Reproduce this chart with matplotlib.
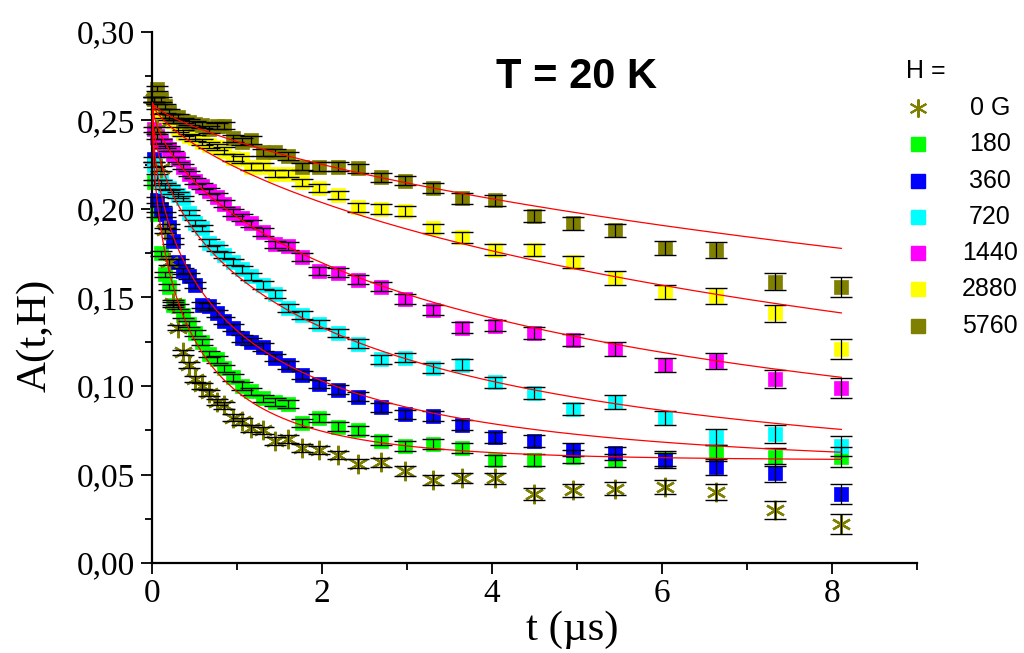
import numpy as np
import matplotlib
matplotlib.use("Agg")
import matplotlib.pyplot as plt
from matplotlib.lines import Line2D
from matplotlib.ticker import MultipleLocator, FuncFormatter

# time bins (us), shared by all fields
t = [0.02, 0.06, 0.10, 0.15, 0.20, 0.25, 0.31, 0.37, 0.44, 0.51, 0.59, 0.67,
     0.76, 0.85, 0.95, 1.06, 1.17, 1.30, 1.45, 1.60, 1.77, 1.97, 2.19, 2.42,
     2.69, 2.98, 3.30, 3.65, 4.04, 4.49, 4.95, 5.45, 6.04, 6.64, 7.33, 8.11]

err = [0.0015, 0.0015, 0.0015, 0.0015, 0.0015, 0.0015, 0.0016, 0.0016, 0.0016,
       0.0017, 0.0017, 0.0018, 0.0018, 0.0019, 0.0019, 0.0020, 0.0020, 0.0021,
       0.0021, 0.0022, 0.0022, 0.0023, 0.0024, 0.0025, 0.0026, 0.0027, 0.0028,
       0.0030, 0.0031, 0.0033, 0.0036, 0.0038, 0.0041, 0.0045, 0.0050, 0.0055]

a_0 = [0.262, 0.245, 0.223, 0.188, 0.170, 0.147, 0.133, 0.119, 0.112, 0.104,
       0.100, 0.096, 0.091, 0.089, 0.082, 0.080, 0.076, 0.075, 0.069, 0.070,
       0.065, 0.064, 0.061, 0.056, 0.057, 0.052, 0.047, 0.048, 0.048, 0.039,
       0.041, 0.042, 0.043, 0.040, 0.030, 0.022]
a_180 = [0.215, 0.197, 0.175, 0.163, 0.156, 0.146, 0.145, 0.140, 0.135, 0.130,
         0.125, 0.118, 0.115, 0.110, 0.105, 0.100, 0.097, 0.093, 0.091, 0.090,
         0.079, 0.082, 0.077, 0.075, 0.069, 0.066, 0.067, 0.065, 0.058, 0.058,
         0.060, 0.058, 0.059, 0.062, 0.060, 0.060]
a_360 = [0.228, 0.205, 0.200, 0.197, 0.190, 0.182, 0.170, 0.165, 0.162, 0.157,
         0.146, 0.145, 0.141, 0.137, 0.133, 0.127, 0.125, 0.122, 0.116, 0.112,
         0.106, 0.101, 0.098, 0.094, 0.088, 0.084, 0.083, 0.078, 0.071, 0.069,
         0.064, 0.062, 0.058, 0.054, 0.051, 0.039]
a_720 = [0.225, 0.218, 0.215, 0.213, 0.212, 0.210, 0.208, 0.206, 0.198, 0.192,
         0.189, 0.181, 0.178, 0.174, 0.170, 0.166, 0.162, 0.157, 0.152, 0.144,
         0.140, 0.135, 0.130, 0.124, 0.115, 0.116, 0.110, 0.112, 0.102, 0.096,
         0.087, 0.091, 0.082, 0.071, 0.073, 0.066]
a_1440 = [0.245, 0.241, 0.238, 0.236, 0.234, 0.231, 0.228, 0.224, 0.220, 0.216,
          0.213, 0.210, 0.207, 0.203, 0.198, 0.195, 0.192, 0.187, 0.180, 0.179,
          0.173, 0.165, 0.164, 0.160, 0.156, 0.149, 0.143, 0.133, 0.134, 0.130,
          0.126, 0.121, 0.112, 0.114, 0.104, 0.099]
a_2880 = [0.262, 0.258, 0.255, 0.253, 0.252, 0.250, 0.245, 0.243, 0.241, 0.240,
          0.238, 0.236, 0.235, 0.233, 0.229, 0.228, 0.224, 0.224, 0.220, 0.220,
          0.215, 0.212, 0.208, 0.201, 0.200, 0.199, 0.189, 0.184, 0.177, 0.177,
          0.170, 0.161, 0.153, 0.151, 0.141, 0.121]
a_5760 = [0.262, 0.268, 0.262, 0.258, 0.255, 0.252, 0.252, 0.250, 0.249, 0.248,
          0.2475, 0.245, 0.247, 0.247, 0.240, 0.238, 0.239, 0.232, 0.232, 0.230,
          0.224, 0.224, 0.224, 0.223, 0.218, 0.216, 0.212, 0.206, 0.205, 0.196,
          0.192, 0.188, 0.178, 0.177, 0.159, 0.156]

# stretched-exponential fit parameters: amplitude, baseline, lambda, beta
fit_180 = (0.195, 0.058, 2.17, 0.617)
fit_360 = (0.207, 0.053, 0.95, 0.55)
fit_720 = (0.215, 0.045, 0.408, 0.56)
fit_1440 = (0.210, 0.050, 0.198, 0.62)
fit_2880 = (0.210, 0.050, 0.095, 0.70)
fit_5760 = (0.210, 0.050, 0.0467, 0.72)

labels = ["0 G", "180", "360", "720", "1440", "2880", "5760"]
colors = ["#808000", "#00ff00", "#0000ff", "#00ffff", "#ff00ff", "#ffff00", "#808000"]

serif = "Liberation Serif"
sans = "Liberation Sans"
star = (6, 2, 0)

fig = plt.figure(figsize=(10.24, 6.53), dpi=100)
ax = fig.add_axes([152 / 1024, 1 - 563 / 653, 765 / 1024, 531 / 653])

square_series = [a_180, a_360, a_720, a_1440, a_2880, a_5760]
for y, c in zip(square_series, colors[1:]):
    ax.plot(t, y, "s", color=c, ms=9.5, mec=c, mew=0.5, zorder=2, clip_on=False)
ax.plot(t, a_0, marker=star, ls="none", color=colors[0], ms=14, mew=1.7,
        zorder=2.5, clip_on=False)

for y in [a_0] + square_series:
    ax.errorbar(t, y, yerr=err, fmt="none", ecolor="black", elinewidth=0.9,
                capsize=8, capthick=1.0, zorder=3, clip_on=False)

tf = np.linspace(0, 8.11, 400)
for a, b, lam, beta in [fit_180, fit_360, fit_720, fit_1440, fit_2880, fit_5760]:
    ax.plot(tf, a * np.exp(-(lam * tf) ** beta) + b, color="red", lw=0.9, zorder=4)

ax.set_xlim(0, 9)
ax.set_ylim(0, 0.30)
ax.spines["top"].set_visible(False)
ax.spines["right"].set_visible(False)
for s in ["left", "bottom"]:
    ax.spines[s].set_linewidth(1.6)
ax.xaxis.set_major_locator(MultipleLocator(2))
ax.xaxis.set_minor_locator(MultipleLocator(1))
ax.yaxis.set_major_locator(MultipleLocator(0.05))
ax.yaxis.set_minor_locator(MultipleLocator(0.025))
ax.yaxis.set_major_formatter(FuncFormatter(lambda v, p: f"{v:.2f}".replace(".", ",")))
ax.tick_params(which="major", direction="out", length=8, width=1.3)
ax.tick_params(which="minor", direction="out", length=5, width=1.3)
ax.tick_params(labelsize=24)
ax.tick_params(axis="y", pad=4)
for lab in ax.get_xticklabels() + ax.get_yticklabels():
    lab.set_family(serif)

fig.text(35 / 1024, 1 - 335 / 653, "A(t,H)", family=serif, fontsize=31,
         rotation=90, ha="center", va="center")
fig.text(572 / 1024, 1 - 630 / 653, "t (\u00b5s)", family=serif, fontsize=31,
         ha="center", va="center")
fig.text(576 / 1024, 1 - 77 / 653, "T = 20 K", family=sans, fontsize=30,
         fontweight="bold", ha="center", va="center")

# legend, drawn by hand
fig.text(906 / 1024, 1 - 71 / 653, "H =", family=sans, fontsize=18,
         ha="left", va="center")
row_y = [108, 144, 181, 217, 253, 289, 326]
for i, (lab, c) in enumerate(zip(labels, colors)):
    yy = 1 - row_y[i] / 653
    if i == 0:
        mk = Line2D([918 / 1024], [yy], marker=star, ls="none", color=c, ms=13,
                    mew=1.5, transform=fig.transFigure)
    else:
        mk = Line2D([918 / 1024], [yy], marker="s", ls="none", color=c, ms=9.5,
                    mec=c, transform=fig.transFigure)
    fig.add_artist(mk)
    fig.text(990 / 1024, yy, lab, family=sans, fontsize=18, ha="center", va="center")

fig.savefig("out.png", dpi=100)
